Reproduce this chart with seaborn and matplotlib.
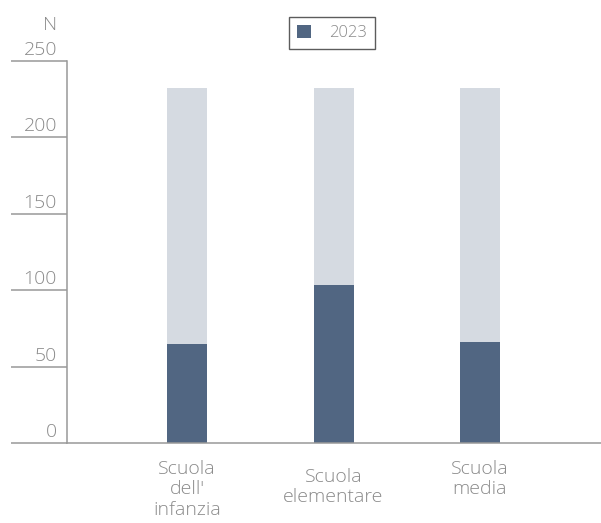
import matplotlib
matplotlib.use("Agg")
import matplotlib.pyplot as plt
import seaborn as sns
import pandas as pd
from matplotlib.transforms import ScaledTranslation

categories = ["Scuola\ndell'\ninfanzia", "Scuola\nelementare", "Scuola\nmedia"]
values_2023 = [65, 103, 66]
max_values = [232, 232, 232]
series_label = "2023"
y_ticks = [0, 50, 100, 150, 200, 250]
y_unit = "N"

sns.set_theme(style="white")
plt.rcParams["font.family"] = ["Open Sans", "DejaVu Sans"]
plt.rcParams["font.weight"] = "light"

DARK = "#516682"
LIGHT = "#d5dae1"
GREY = "#999999"
TXT = "#8a8a8a"

df = pd.DataFrame({"cat": categories, "val": values_2023, "max": max_values})

fig = plt.figure(figsize=(6.01, 5.23), dpi=100)
W, H = 601, 523
ax = fig.add_axes([67 / W, 80 / H, (601 - 67) / W, (443 - 60.7) / H])

bw = 40 / 146.5
sns.barplot(data=df, x="cat", y="max", color=LIGHT, saturation=1, width=bw, ax=ax,
            linewidth=0)
sns.barplot(data=df, x="cat", y="val", color=DARK, saturation=1, width=bw, ax=ax,
            label=series_label, linewidth=0)
handles, labels = ax.get_legend_handles_labels()
if ax.get_legend() is not None:
    ax.get_legend().remove()

ax.set_ylim(0, 250)
ax.set_xlim(-120 / 146.5, 2 + 121 / 146.5)
ax.set_yticks(y_ticks)
ax.set_yticklabels([str(t) for t in y_ticks])
ax.set_xlabel("")
ax.set_ylabel("")

for s in ["top", "right"]:
    ax.spines[s].set_visible(False)
for s in ["left", "bottom"]:
    ax.spines[s].set_color(GREY)
    ax.spines[s].set_linewidth(1.1)

tick_len = 56 * 72 / 100
ax.tick_params(axis="y", direction="out", length=tick_len, width=1.1, color=GREY,
               pad=-(56 - 10) * 72 / 100, labelsize=14, labelcolor=TXT, left=True)
ax.tick_params(axis="x", length=0, pad=12, labelsize=14, labelcolor=TXT)
for lab in ax.get_yticklabels():
    lab.set_va("bottom")
    lab.set_transform(lab.get_transform() + ScaledTranslation(0, 2 / 100, fig.dpi_scale_trans))
xl = ax.get_xticklabels()
for lab in xl:
    lab.set_linespacing(1.2)
xl[1].set_transform(xl[1].get_transform() + ScaledTranslation(0, -8 / 100, fig.dpi_scale_trans))

fig.text(57 / W, 1 - 25 / H, y_unit, ha="right", va="center", fontsize=14, color=TXT)

leg = fig.legend(handles[-1:], [series_label], loc="center",
                 bbox_to_anchor=(332 / W, 1 - 33 / H), frameon=True, fancybox=False,
                 fontsize=12, labelcolor=TXT, handlelength=0.8, handleheight=0.8,
                 borderpad=0.5, handletextpad=1.1, borderaxespad=0)
leg.get_frame().set_edgecolor("#333333")
leg.get_frame().set_linewidth(1.0)

fig.savefig("out.png", dpi=100)
